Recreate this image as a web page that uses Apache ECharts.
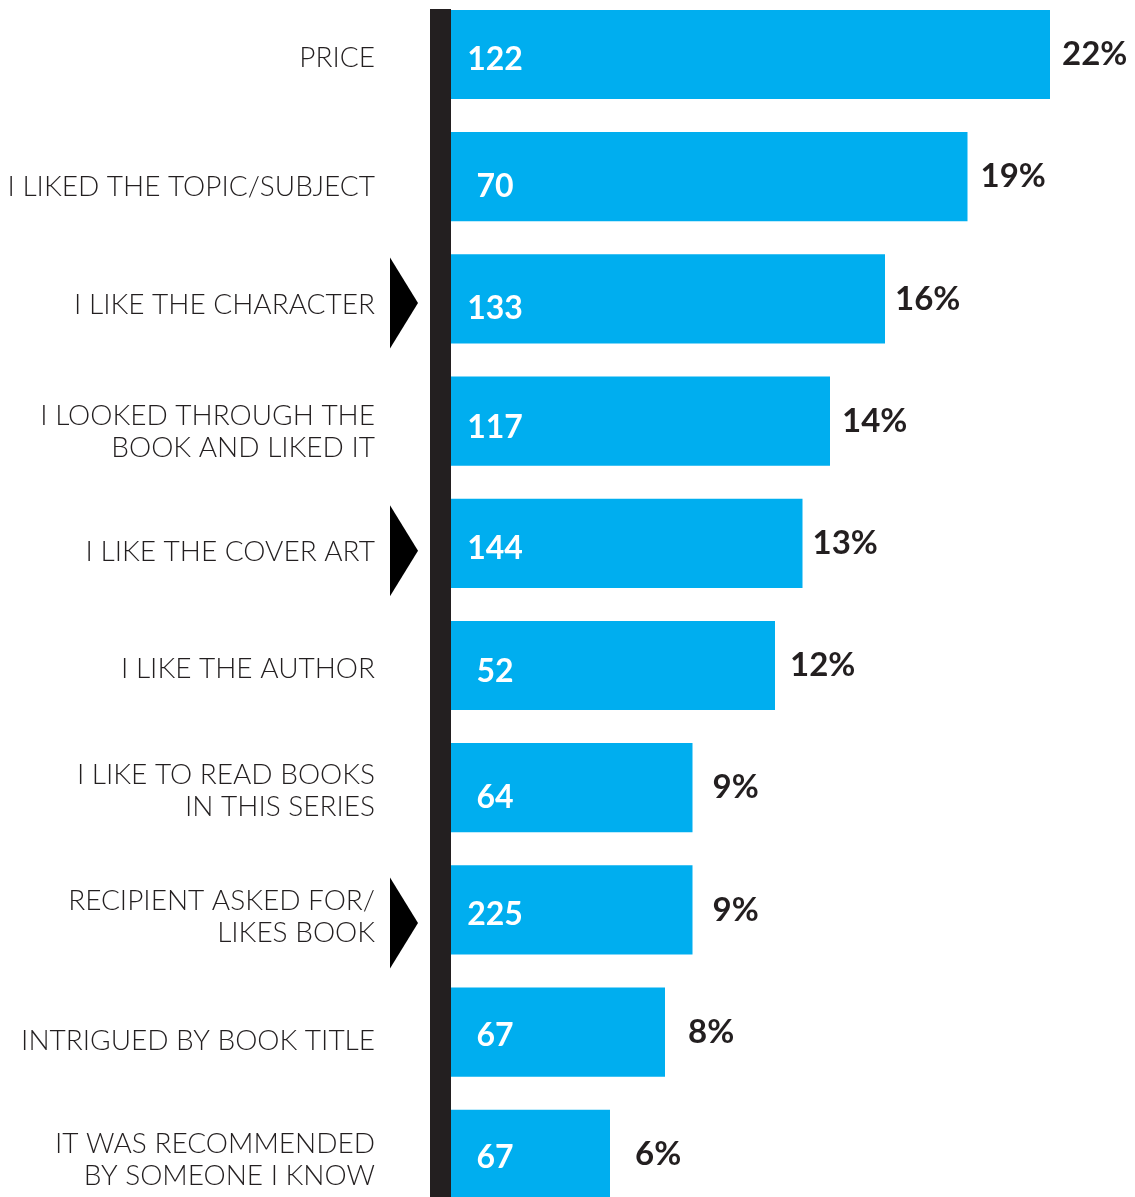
<!DOCTYPE html>
<html>
<head>
<meta charset="utf-8">
<script src="https://cdn.jsdelivr.net/npm/echarts@6/dist/echarts.min.js"></script>
<style>
  html, body { margin: 0; padding: 0; background: #ffffff; }
  #chart { width: 1135px; height: 1197px; }
</style>
</head>
<body>
<div id="chart"></div>
<script>
// Reasons given for choosing a book (share of respondents, with response counts)
const categories = [
  'PRICE',
  'I LIKED THE TOPIC/SUBJECT',
  'I LIKE THE CHARACTER',
  'I LOOKED THROUGH THE\nBOOK AND LIKED IT',
  'I LIKE THE COVER ART',
  'I LIKE THE AUTHOR',
  'I LIKE TO READ BOOKS\nIN THIS SERIES',
  'RECIPIENT ASKED FOR/\nLIKES BOOK',
  'INTRIGUED BY BOOK TITLE',
  'IT WAS RECOMMENDED\nBY SOMEONE I KNOW'
];
const percentValues = [22, 19, 16, 14, 13, 12, 9, 9, 8, 6];
const countValues = [122, 70, 133, 117, 144, 52, 64, 225, 67, 67];
// Categories flagged with a pointer arrow
const flagged = [false, false, true, false, true, false, false, true, false, false];

// Layout tweaks (pixels)
const pctLabelGap = [12, 13, 10, 12, 10, 15, 20, 20, 23, 25];          // bar end -> % label
const categoryLabelDrop = [3.5, 10, 6, 11, 8.5, 3.5, 3, 7, 8.5, 5.5];  // downward nudge of category text
const countLabelDrop = [5, 9.5, 9.5, 6.5, 5, 6.5, 9.5, 4.5, 3.5, 3.5];  // downward nudge of counts
const arrowDrop = [4, 7.5, 13];                                           // downward nudge of arrows

const INK = '#231f20';
const BLUE = '#00aeef';
const FONT = 'Lato, "Noto Sans", sans-serif';

const chart = echarts.init(document.getElementById('chart'), null, { renderer: 'canvas' });

const pctData = percentValues.map((v, i) => ({
  value: v,
  label: { distance: pctLabelGap[i] }
}));

const countData = percentValues.map((v, i) => ({
  value: v,
  label: { offset: [0, countLabelDrop[i]] }
}));

// Category names, right-aligned to the left of the vertical rule
const nameData = categories.map((c, i) => [0, i, categoryLabelDrop[i]]);

const arrowData = [];
flagged.forEach((f, i) => { if (f) arrowData.push([0, i, arrowDrop[arrowData.length]]); });

chart.setOption({
  animation: false,
  backgroundColor: '#ffffff',
  grid: {
    left: 445, top: -6.6, height: 1222, right: 2.5,
    containLabel: false,
    outerBoundsMode: 'none'
  },
  xAxis: {
    type: 'value',
    min: 0,
    max: 25,
    show: false
  },
  yAxis: {
    type: 'category',
    inverse: true,
    data: categories,
    axisLine: { show: false },
    axisTick: { show: false },
    splitLine: { show: false },
    axisLabel: { show: false }
  },
  graphic: [{
    type: 'rect',
    z: 100,
    shape: { x: 430, y: 9, width: 21, height: 1200 },
    style: { fill: INK }
  }],
  series: [
    {
      type: 'bar',
      data: pctData,
      barCategoryGap: '27%',
      itemStyle: { color: BLUE },
      label: {
        show: true,
        position: 'right',
        formatter: '{c}%',
        color: INK,
        fontFamily: FONT,
        fontWeight: 'bold',
        fontSize: 33
      },
      z: 2
    },
    {
      type: 'bar',
      data: countData,
      barGap: '-100%',
      barCategoryGap: '27%',
      itemStyle: { color: 'rgba(0,0,0,0)' },
      label: {
        show: true,
        position: [50, '50%'],
        align: 'center',
        verticalAlign: 'middle',
        formatter: p => String(countValues[p.dataIndex]),
        color: '#ffffff',
        fontFamily: FONT,
        fontWeight: 'bold',
        fontSize: 32
      },
      z: 3
    },
    {
      type: 'custom',
      data: nameData,
      encode: { x: 0, y: 1 },
      clip: false,
      renderItem: (params, api) => {
        const p = api.coord([api.value(0), api.value(1)]);
        return {
          type: 'text',
          x: p[0] - 70,
          y: p[1] + api.value(2),
          style: {
            text: categories[params.dataIndex],
            fill: INK,
            fontFamily: FONT,
            fontWeight: 300,
            fontSize: 28,
            lineHeight: 32,
            align: 'right',
            verticalAlign: 'middle'
          }
        };
      },
      z: 4
    },
    {
      type: 'custom',
      data: arrowData,
      encode: { x: 0, y: 1 },
      clip: false,
      renderItem: (params, api) => {
        const p = api.coord([api.value(0), api.value(1)]);
        const x = p[0], y = p[1] + api.value(2);
        return {
          type: 'polygon',
          shape: { points: [[x - 55, y - 45.5], [x - 27, y], [x - 55, y + 45.5]] },
          style: { fill: '#000000' }
        };
      },
      z: 5
    }
  ]
});
</script>
</body>
</html>
